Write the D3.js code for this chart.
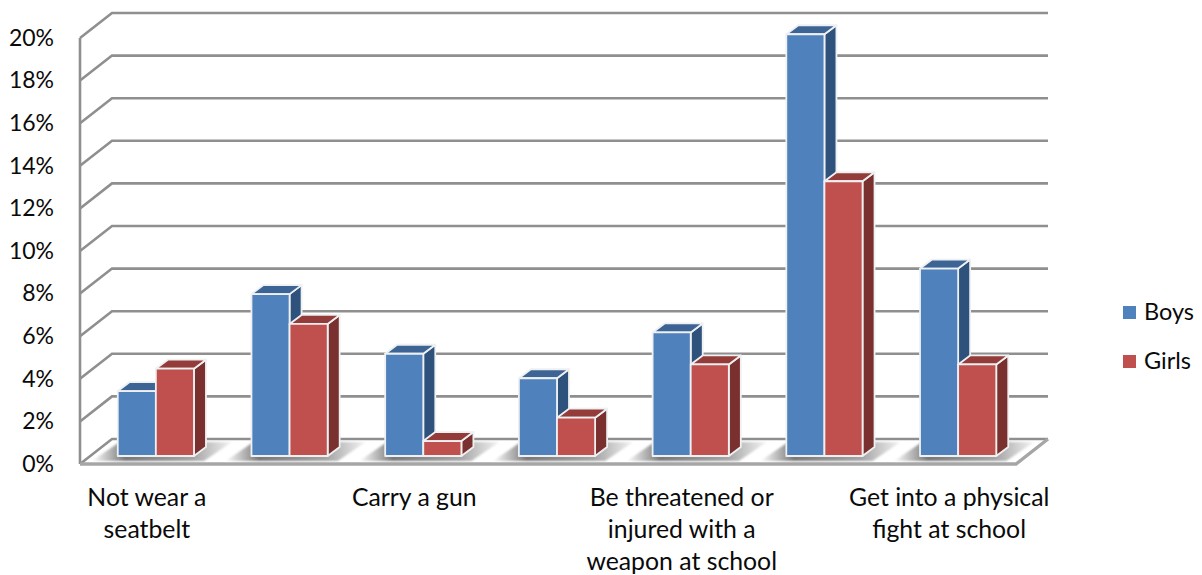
<!DOCTYPE html>
<html>
<head>
    <meta charset="utf-8">
    <title>Risk behaviours</title>
    <style>
        html, body { margin: 0; padding: 0; background: #fff; overflow: hidden; }
        text { font-family: Lato, "Open Sans", sans-serif; fill: #0a0a0a; }
    </style>
</head>
<body>
    <script src="https://cdnjs.cloudflare.com/ajax/libs/d3/7.9.0/d3.min.js"></script>
    <script>

        // only every other category name is printed in the chart
        const categories = ["Not wear a seatbelt", "cat2", "Carry a gun", "cat4", "Be threatened or injured with a weapon at school", "cat6", "Get into a physical fight at school"];
        const labelLines = [["Not wear a", "seatbelt"], [], ["Carry a gun"], [], ["Be threatened or", "injured with a", "weapon at school"], [], ["Get into a physical", "fight at school"]];
        const seriesNames = ["Boys", "Girls"];
        const boys = [3.05, 7.6, 4.8, 3.65, 5.8, 19.8, 8.8];
        const girls = [4.1, 6.2, 0.7, 1.8, 4.3, 12.9, 4.3];
        const tickValues = [0, 2, 4, 6, 8, 10, 12, 14, 16, 18, 20];

        const width = 1202;
        const height = 575;

        // chart box: front plane, and how far the back wall is shifted from it
        const front = {left: 80, right: 1016, bottom: 464, top: 38};
        const wall = {dx: 32, dy: -25};
        const barPlane = {dx: 9, dy: -8};
        const barDepth = {dx: 12, dy: -9};

        const colors = {
            Boys: {face: "#4f81bd", top: "#3c6494", side: "#2f527c"},
            Girls: {face: "#c0504d", top: "#943c3a", side: "#7a302e"}
        };

        const svg = d3.select("body")
            .append("svg")
            .attr("width", width)
            .attr("height", height)
            .style("display", "block");

        const defs = svg.append("defs");

        defs.append("filter").attr("id", "soft")
            .append("feGaussianBlur").attr("stdDeviation", 0.5);

        defs.append("filter").attr("id", "shadowBlur")
            .attr("x", "-10%").attr("width", "120%")
            .append("feGaussianBlur").attr("stdDeviation", 1.2);

        const grad = defs.append("linearGradient").attr("id", "shadowGrad")
            .attr("x1", 0).attr("x2", 1).attr("y1", 0).attr("y2", 0);
        grad.append("stop").attr("offset", "0%").attr("stop-color", "#fff");
        grad.append("stop").attr("offset", "24%").attr("stop-color", "#787878");
        grad.append("stop").attr("offset", "72%").attr("stop-color", "#a4a4a4");
        grad.append("stop").attr("offset", "100%").attr("stop-color", "#f4f4f4");

        const scaleY = d3.scaleLinear()
            .domain([0, 20])
            .range([front.bottom, front.top]);

        const scaleLabel = d3.scaleBand()
            .domain(categories)
            .range([front.left, front.right]);

        const scaleX = d3.scaleBand()
            .domain(categories)
            .range([front.left + barPlane.dx, front.right + barPlane.dx])
            .paddingInner(0.43)
            .paddingOuter(0.215);

        const scaleSeries = d3.scaleBand()
            .domain(seriesNames)
            .range([0, scaleX.bandwidth()]);

        const gridColor = "#8f8f8f";

        // walls
        const gridG = svg.append("g")
            .attr("fill", "none")
            .attr("stroke", gridColor)
            .attr("stroke-width", 2.6)
            .attr("filter", "url(#soft)");

        gridG.selectAll(".back")
            .data(tickValues)
            .enter()
            .append("path")
            .attr("d", d => {
                const y = scaleY(d);
                const pts = [[front.left, y], [front.left + wall.dx, y + wall.dy], [front.right + wall.dx, y + wall.dy]];
                return d3.line()(pts);
            });

        gridG.append("path")
            .attr("d", d3.line()([[front.left, scaleY(0)], [front.left, scaleY(20)]]));

        // floor edge
        gridG.append("path")
            .attr("stroke", "#a6a6a6")
            .attr("stroke-width", 3.4)
            .attr("d", d3.line()([
                [front.left, scaleY(0)],
                [front.right, scaleY(0)],
                [front.right + wall.dx, scaleY(0) + wall.dy]
            ]));

        // shadow each bar group throws on the floor
        svg.append("g").selectAll(".shadow")
            .data(categories)
            .enter()
            .append("path")
            .attr("fill", "url(#shadowGrad)")
            .attr("filter", "url(#shadowBlur)")
            .attr("d", d => {
                const x0 = scaleX(d), x1 = x0 + scaleX.bandwidth();
                const yb = scaleY(0) - 3;
                return d3.line()([[x0 - 26, yb], [x1 + 10, yb], [x1 + 38, yb - 19], [x0 + 2, yb - 19]]);
            });

        // bars
        const barBase = scaleY(0) + barPlane.dy;

        const bars = [];
        categories.forEach((c, i) => {
            bars.push({cat: c, series: "Boys", value: boys[i]});
            bars.push({cat: c, series: "Girls", value: girls[i]});
        });

        const barG = svg.append("g").selectAll(".bar")
            .data(bars)
            .enter()
            .append("g")
            .attr("class", "bar")
            .attr("stroke", "#eef0f2")
            .attr("stroke-width", 1.8)
            .attr("stroke-linejoin", "round");

        function box(d) {
            const x0 = scaleX(d.cat) + scaleSeries(d.series);
            return {x0: x0, x1: x0 + scaleSeries.bandwidth(), y0: scaleY(d.value) + barPlane.dy, y1: barBase};
        }

        barG.append("path")
            .attr("fill", d => colors[d.series].side)
            .attr("d", d => {
                const b = box(d);
                return d3.line()([[b.x1, b.y0], [b.x1 + barDepth.dx, b.y0 + barDepth.dy], [b.x1 + barDepth.dx, b.y1 + barDepth.dy], [b.x1, b.y1]]) + "Z";
            });

        barG.append("path")
            .attr("fill", d => colors[d.series].top)
            .attr("d", d => {
                const b = box(d);
                return d3.line()([[b.x0, b.y0], [b.x0 + barDepth.dx, b.y0 + barDepth.dy], [b.x1 + barDepth.dx, b.y0 + barDepth.dy], [b.x1, b.y0]]) + "Z";
            });

        barG.append("rect")
            .attr("fill", d => colors[d.series].face)
            .attr("x", d => box(d).x0)
            .attr("y", d => box(d).y0)
            .attr("width", scaleSeries.bandwidth())
            .attr("height", d => barBase - box(d).y0);

        // y axis labels
        const axisY = svg.append("g")
            .attr("transform", `translate(${front.left},0)`)
            .call(d3.axisLeft(scaleY).tickValues(tickValues).tickFormat(d => d + "%").tickSize(0).tickPadding(26));
        axisY.select(".domain").remove();
        axisY.selectAll("text")
            .attr("font-size", "23px")
            .style("font-family", "Lato, sans-serif");

        // category labels, wrapped by hand like the original
        const labelG = svg.append("g").selectAll(".cat")
            .data(categories)
            .enter()
            .append("text")
            .attr("class", "cat")
            .attr("text-anchor", "middle")
            .attr("font-size", "24.8px");

        labelG.selectAll("tspan")
            .data((d, i) => labelLines[i].map(line => ({line: line, cat: d})))
            .enter()
            .append("tspan")
            .attr("x", d => scaleLabel(d.cat) + scaleLabel.bandwidth() / 2)
            .attr("y", (d, i) => 506 + i * 32)
            .text(d => d.line);

        // legend
        const legend = svg.append("g").selectAll(".legend")
            .data(seriesNames)
            .enter()
            .append("g")
            .attr("transform", (d, i) => `translate(1123,${306 + i * 49})`);

        legend.append("rect")
            .attr("width", 13)
            .attr("height", 13)
            .attr("fill", d => colors[d].face);

        legend.append("text")
            .attr("x", 21)
            .attr("y", 14)
            .attr("font-size", "23.5px")
            .text(d => d);

    </script>
</body>
</html>
